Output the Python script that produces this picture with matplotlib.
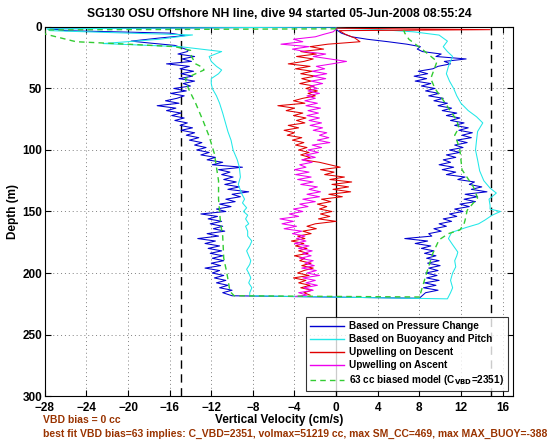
import matplotlib
matplotlib.use("Agg")
import matplotlib.pyplot as plt
from matplotlib.lines import Line2D

plt.rcParams['font.family'] = ['Liberation Sans', 'DejaVu Sans']
plt.rcParams['font.weight'] = 'bold'

TITLE = "SG130 OSU Offshore NH line, dive 94 started 05-Jun-2008 08:55:24"
XTICKS = [-28, -24, -20, -16, -12, -8, -4, 0, 4, 8, 12, 16]
YTICKS = [0, 50, 100, 150, 200, 250, 300]
LIMIT_V = [-14.9, 14.9]

# common depth sampling (m) for the noisy series
DESC_GRID = [20, 22, 24, 26, 28, 30, 32, 34, 36, 38, 40, 42, 44, 46, 48, 50, 52, 54, 56, 58,
             60, 62, 64, 66, 68, 70, 72, 74, 76, 78, 80, 82, 84, 86, 88, 90, 92, 94, 96, 98,
             100, 102, 104, 106, 108, 110, 112, 114, 116, 118, 120, 122, 124, 126, 128, 130,
             132, 134, 136, 138, 140, 142, 144, 146, 148, 150, 152, 154, 156, 158, 160, 162,
             164, 166, 168, 170, 172, 174, 176, 178, 180, 182, 184, 186, 188, 190, 192, 194,
             196, 198, 200, 202, 204, 206, 208, 210, 212, 214, 216]
ASC_GRID = DESC_GRID[::-1]

# Based on Pressure Change (blue)
blue_top_d = [0, 1.5, 3, 5, 7, 9, 11.5, 13, 15, 17, 19]
blue_top_v = [0, -27.5, -26, -16, -14.5, -17, -19.7, -18, -15.5, -14.8, -14.2]
blue_desc_v = [-14.3, -15.2, -13.6, -14.8, -13.9, -16.3, -14.1, -15.0, -13.7, -14.9,
               -13.8, -15.1, -13.6, -14.7, -14.0, -15.6, -14.4, -15.9, -14.6, -15.3,
               -16.4, -15.1, -17.2, -15.4, -16.3, -14.9, -15.8, -14.6, -15.5, -14.3,
               -15.0, -13.8, -14.9, -13.6, -14.4, -13.2, -14.1, -12.9, -13.6, -12.5,
               -13.4, -12.2, -13.0, -11.6, -12.4, -10.9, -11.9, -9.0, -11.3, -10.2,
               -11.0, -9.9, -10.8, -9.6, -10.7, -9.3, -10.4, -8.4, -10.0, -9.2,
               -10.6, -9.7, -11.2, -10.1, -11.5, -10.6, -13.0, -11.4, -12.3, -11.0,
               -12.1, -10.9, -11.8, -10.7, -12.4, -11.3, -13.3, -11.6, -12.6, -11.2,
               -12.3, -11.0, -12.1, -10.9, -11.9, -10.8, -12.0, -11.1, -12.6, -11.2,
               -11.9, -10.8, -11.7, -10.6, -11.5, -10.4, -11.2, -10.0, -10.9]
blue_bot_d = [218.5, 220.5]
blue_bot_v = [-10.0, 8.0]
blue_asc_v = [8.6, 9.8, 8.4, 9.6, 8.5, 9.9, 8.7, 9.7, 8.6, 9.8,
              8.9, 10.0, 8.8, 9.9, 8.7, 9.6, 8.5, 9.4, 8.2, 9.1,
              7.6, 8.8, 6.6, 9.2, 8.9, 10.1, 9.4, 10.6, 9.9, 11.1,
              10.3, 11.6, 10.9, 12.2, 11.4, 12.8, 11.9, 13.4, 12.3, 13.6,
              12.4, 14.5, 13.0, 14.0, 12.8, 13.3, 11.7, 12.4, 10.6, 11.5,
              10.2, 11.3, 9.9, 11.0, 10.3, 11.5, 10.6, 11.9, 10.9, 12.2,
              11.4, 12.6, 11.6, 13.0, 12.1, 13.1, 11.8, 12.7, 11.4, 12.3,
              11.0, 11.9, 10.6, 11.6, 10.2, 11.1, 9.8, 10.7, 9.4, 10.3,
              8.9, 9.9, 8.6, 9.5, 8.2, 9.1, 7.6, 8.7, 7.5, 8.8,
              7.9, 9.3, 9.8, 11.0, 10.4, 12.5, 9.6, 10.1, 8.3]
blue_end_d = [18, 16, 14, 12, 10, 8, 5, 2, 1]
blue_end_v = [7.8, 8.1, 6.8, 5.0, 3.0, 1.5, 0.5, 0.0, 0.0]

# Based on Buoyancy and Pitch (cyan)
cyan_d = [0, 1.5, 3, 5, 6.5, 10, 13.5, 16, 20, 24, 28, 32, 35, 38, 42, 46, 50, 56, 62, 70,
          76, 85, 92, 100, 108, 114, 122, 128, 135, 140, 143, 147, 150, 153, 156, 160, 162,
          166, 170, 174, 178, 182, 186, 190, 193, 197, 200, 204, 208, 212, 216, 218.5,
          221, 216, 212, 206, 200, 195, 190, 186, 183, 177, 172, 167, 163, 160, 157, 153,
          150, 148, 145, 140, 135, 131, 125, 117, 108, 100, 92, 85, 78, 73, 68, 62, 56, 50,
          44, 38, 32, 28, 24, 20, 16, 11.5, 6.6, 4, 2, 1]
cyan_v = [0, -27.8, -27.5, -20, -13.8, -17, -22.4, -15, -11.0, -12.2, -12.0, -11.5, -11.0,
          -11.3, -12.0, -12.0, -11.9, -11.5, -11.2, -10.9, -10.7, -10.4, -10.1, -9.9, -9.5,
          -9.3, -9.2, -9.4, -9.1, -8.8, -9.0, -8.6, -8.9, -8.5, -8.7, -8.4, -8.7, -8.5, -8.5,
          -8.1, -8.3, -8.6, -8.4, -8.2, -8.3, -8.6, -8.4, -8.2, -8.4, -8.1, -8.3, -8.3,
          10.7, 11.0, 11.2, 11.0, 11.2, 11.5, 11.4, 11.6, 11.7, 11.2, 10.8, 11.1, 12.5, 13.7,
          14.3, 15.0, 15.8, 14.8, 14.8, 14.7, 15.4, 14.8, 14.2, 13.8, 13.6, 13.4, 13.5, 13.6,
          14.1, 13.5, 12.7, 12.0, 11.6, 11.3, 10.9, 10.6, 10.8, 11.0, 11.2, 10.7, 10.3,
          10.7, 9.9, 7.5, 4.0, 0.0]

# Upwelling on Descent (red)
red_top_d = [1, 2.2, 3, 6, 9, 12, 14, 16, 18]
red_top_v = [0, 14.8, 0.3, 0.9, 1.8, 2.3, -0.8, -2.5, -1.2]
red_desc_v = [-3.4, -1.9, -3.8, -2.2, -3.1, -4.6, -2.5, -3.9, -2.3, -3.4,
              -2.0, -3.3, -2.4, -3.5, -2.1, -2.9, -1.8, -2.7, -2.0, -3.2,
              -4.1, -3.0, -5.6, -4.0, -4.8, -3.2, -4.1, -2.9, -3.8, -3.0,
              -4.6, -3.6, -5.0, -4.0, -4.7, -3.3, -4.2, -3.1, -3.9, -2.8,
              -3.6, -2.6, -3.4, -2.5, -3.2, -1.6, -0.6, 0.4, -1.5, -0.2,
              -1.1, 0.8, -0.6, 1.5, -0.4, 1.2, -0.3, 1.4, -0.7, 0.6,
              -1.4, -0.5, -1.8, -0.9, -1.6, -0.4, -1.5, -0.6, -1.7, 0.0,
              -2.0, -2.8, -1.9, -3.2, -2.4, -3.7, -3.0, -4.3, -3.1, -3.9,
              -2.8, -3.6, -2.7, -4.0, -3.0, -3.5, -2.4, -3.3, -2.2, -3.1,
              -3.7, -2.6, -4.1, -2.9, -3.6, -2.5, -3.4, -2.3, -3.1]
red_end_d = [218]
red_end_v = [-2.5]

# Upwelling on Ascent (magenta)
mag_start_d = [219, 218]
mag_start_v = [-3.9, -2.8]
mag_asc_v = [-3.6, -2.2, -3.1, -1.8, -2.9, -2.0, -3.2, -1.6, -2.8, -1.9,
             -3.3, -2.1, -3.0, -2.2, -3.5, -2.4, -3.2, -2.3, -3.6, -2.6,
             -4.0, -2.9, -3.8, -3.0, -4.2, -3.3, -5.0, -3.8, -5.2, -4.1,
             -5.4, -3.6, -4.5, -3.2, -4.1, -2.7, -3.5, -2.0, -3.2, -1.6,
             -2.8, -1.5, -2.6, -1.8, -3.4, -2.2, -3.7, -2.4, -3.9, -2.6,
             -4.0, -2.9, -3.5, -2.3, -3.3, -2.0, -2.9, -1.7, -2.7, -1.4,
             -2.3, -0.6, -1.8, -0.7, -1.6, -0.9, -2.2, -1.3, -2.5, -1.4,
             -2.6, -1.6, -2.8, -1.7, -2.7, -1.5, -2.9, -1.8, -3.0, -2.0,
             -2.8, -1.6, -2.7, -1.8, -2.5, -1.3, -2.4, -1.0, -2.2, -0.9,
             -2.3, -1.1, -1.9, -0.4, 1.0, -0.6, -2.2, -1.0, -3.0]
mag_end_d = [18, 16, 14, 12, 10, 8, 6, 4, 2]
mag_end_v = [-4.2, -2.6, -5.3, -3.2, -4.1, -2.0, -1.2, -0.3, 0.0]

# 63 cc biased model (green dashed)
green_d = [1.5, 2.4, 5.7, 12, 14, 16, 19, 24, 30, 33, 35, 38, 42, 50, 62, 76, 89, 103, 114,
           125, 140, 150, 160, 170, 188, 200, 215, 218.5,
           219.5, 217, 200, 184, 173, 168, 165, 160, 157, 149, 144, 139, 130, 116, 100, 92,
           88, 82, 76, 62, 50, 42, 35, 28, 19, 10, 5, 2.4]
green_v = [0, -28, -28, -25, -20, -15.5, -14, -13.9, -13.5, -12.8, -12.7, -13.5, -14.5,
           -14.2, -13.5, -12.8, -12.2, -11.7, -11.5, -11.3, -11.3, -11.2, -11.1, -10.9, -10.8,
           -10.5, -10.2, -9.8,
           8.1, 8.1, 8.7, 9.3, 9.9, 10.8, 11.9, 12.3, 12.4, 12.6, 13.1, 13.6, 13.2, 12.1,
           11.9, 11.6, 11.4, 11.8, 11.6, 10.5, 9.5, 9.1, 9.4, 9.7, 8.4, 7.0, 6.6, 6.5]

blue_d = blue_top_d + DESC_GRID + blue_bot_d + ASC_GRID + blue_end_d
blue_v = blue_top_v + blue_desc_v + blue_bot_v + blue_asc_v + blue_end_v
red_d = red_top_d + DESC_GRID + red_end_d
red_v = red_top_v + red_desc_v + red_end_v
mag_d = mag_start_d + ASC_GRID + mag_end_d
mag_v = mag_start_v + mag_asc_v + mag_end_v

C_BLUE = '#0000d0'
C_CYAN = '#20e8e8'
C_RED = '#e00000'
C_MAG = '#ee00ee'
C_GREEN = '#33cc33'
C_TXT = '#993300'

fig = plt.figure(figsize=(5.6, 4.42), dpi=100)
ax = fig.add_axes([0.080, 0.104, 0.836, 0.835])

ax.plot(blue_v, blue_d, color=C_BLUE, lw=0.75, zorder=3)
ax.plot(cyan_v, cyan_d, color=C_CYAN, lw=0.75, zorder=3)
ax.plot(red_v, red_d, color=C_RED, lw=0.75, zorder=3)
ax.plot(mag_v, mag_d, color=C_MAG, lw=0.75, zorder=3)
ax.plot(green_v, green_d, color=C_GREEN, lw=1.0, ls=(0, (4, 3)), zorder=4)

ax.axvline(0, color='black', lw=0.9, zorder=2)
for lv in LIMIT_V:
    ax.axvline(lv, color='black', lw=1.0, ls=(0, (6, 4)), zorder=2)

ax.set_xlim(-28, 17)
ax.set_ylim(300, 0)
ax.set_xticks(XTICKS)
ax.set_yticks(YTICKS)
ax.grid(True, color='0.5', ls=(0, (1, 3)), lw=0.7)
ax.set_axisbelow(True)
ax.tick_params(direction='in', top=True, right=True, length=4, width=0.8,
               labelsize=8.5)
ax.tick_params(axis='x', pad=4)
ax.tick_params(axis='y', pad=2)
for lab in ax.get_xticklabels() + ax.get_yticklabels():
    lab.set_fontweight('bold')
for sp in ax.spines.values():
    sp.set_linewidth(0.8)

ax.set_title(TITLE, fontsize=8.7, fontweight='bold', pad=7)
ax.set_xlabel('Vertical Velocity (cm/s)', fontsize=8.5, fontweight='bold', labelpad=0)
ax.set_ylabel('Depth (m)', fontsize=8.5, fontweight='bold', labelpad=2)

handles = [Line2D([], [], color=C_BLUE, lw=1.0),
           Line2D([], [], color=C_CYAN, lw=1.0),
           Line2D([], [], color=C_RED, lw=1.0),
           Line2D([], [], color=C_MAG, lw=1.0),
           Line2D([], [], color=C_GREEN, lw=1.0, ls=(0, (4, 3)))]
labels = ['Based on Pressure Change', 'Based on Buoyancy and Pitch',
          'Upwelling on Descent', 'Upwelling on Ascent',
          '63 cc biased model (C$_{\\mathbf{VBD}}$=2351)']
leg = ax.legend(handles, labels, loc='lower right', bbox_to_anchor=(0.99, 0.013),
                borderaxespad=0, frameon=True, fancybox=False,
                handlelength=3.4, handletextpad=0.5, labelspacing=0.3,
                borderpad=0.4, prop={'weight': 'bold', 'size': 7.2})
leg.get_frame().set_edgecolor('black')
leg.get_frame().set_linewidth(0.8)

fig.text(43 / 560, 1 - 420 / 442, 'VBD bias = 0 cc', color=C_TXT, fontsize=7.5,
         fontweight='bold', va='center', ha='left')
fig.text(43 / 560, 1 - 434 / 442,
         'best fit VBD bias=63 implies: C_VBD=2351, volmax=51219 cc, max SM_CC=469, max MAX_BUOY=-388',
         color=C_TXT, fontsize=7.5, fontweight='bold', va='center', ha='left')

fig.savefig('out.png', dpi=100)
